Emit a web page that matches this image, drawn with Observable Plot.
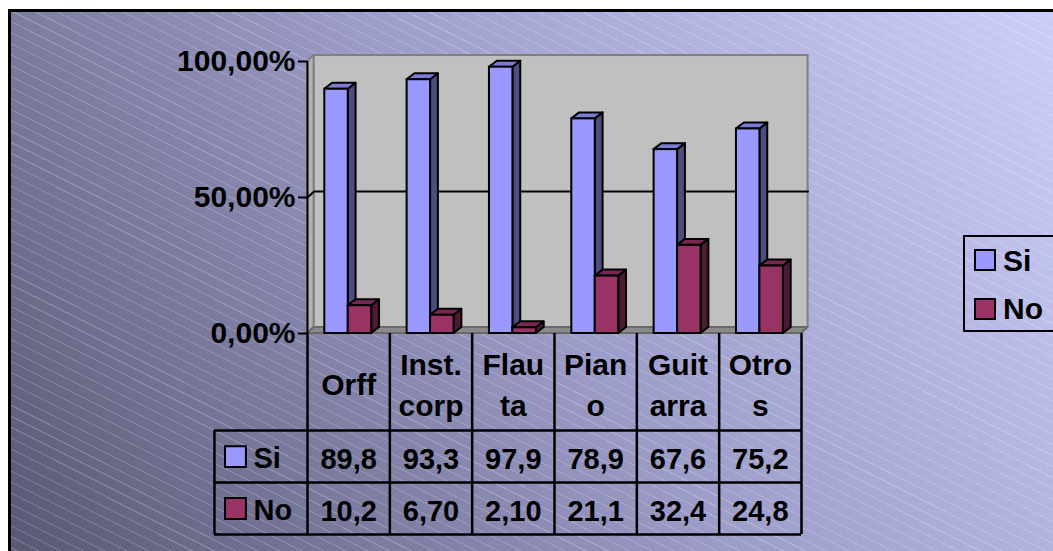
<!DOCTYPE html>
<html>
<head>
<meta charset="utf-8">
<script src="https://cdn.jsdelivr.net/npm/d3@7"></script>
<script src="https://cdn.jsdelivr.net/npm/@observablehq/plot@0.6"></script>
<style>
  html, body { margin: 0; padding: 0; background: #fff; overflow: hidden; }
  #page { position: relative; width: 1053px; height: 551px; overflow: hidden;
          font-family: "Liberation Sans", Arial, sans-serif; }
  #frame { position: absolute; left: 8px; top: 9px; width: 1090px; height: 590px;
           border: 3px solid #000;
           background:
             repeating-linear-gradient(26.6deg,
               rgba(255,255,255,0) 0px, rgba(255,255,255,0) 8.8px,
               rgba(255,255,255,0.2) 8.8px, rgba(255,255,255,0.2) 9.8px),
             linear-gradient(55deg, #55556f 0%, #9c9cc8 50%, #d0d0fc 100%); }
  #page svg { position: absolute; left: 0; top: 0; }
  .legend-box { position: absolute; left: 963px; top: 235px; width: 150px; height: 97px;
                box-sizing: border-box; border: 2.5px solid #000; }
  .legend-swatch { position: absolute; width: 22px; height: 22px; box-sizing: border-box;
                   border: 2px solid #000; }
  .legend-label { position: absolute; font-size: 30px; line-height: 30px; font-weight: bold;
                  color: #000; white-space: nowrap; }
</style>
</head>
<body>
<div id="page"><div id="frame"></div></div>
<script>
// Instrument preference survey: share of "Si" / "No" answers per instrument (%)
const categories = ["Orff", "Inst. corp", "Flauta", "Piano", "Guitarra", "Otros"];
const headerLabels = ["Orff", "Inst.\ncorp", "Flau\nta", "Pian\no", "Guit\narra", "Otro\ns"];
const siValues = [89.8, 93.3, 97.9, 78.9, 67.6, 75.2];
const noValues = [10.2, 6.70, 2.10, 21.1, 32.4, 24.8];
const seriesNames = ["Si", "No"];
const yTicks = [0, 50, 100];

// Colours of each series: front, side and top faces of the 3D columns
const palette = {
  Si: {front: "#9999ff", side: "#4d4d80", top: "#7b7bd6"},
  No: {front: "#993366", side: "#4d1a33", top: "#762853"}
};

// Geometry of the pseudo-3D columns, in scale units
const GROUP_START = 0.21;  // offset of the first column inside its category
const BAR_W = 0.285;       // width of one column
const BAR_DX = 0.095;      // horizontal depth of a column
const WALL_DX = 0.08;      // horizontal depth of walls and floor
const DEPTH_Y = 2.2;       // vertical depth (in percent units)
const Y_MAX = d3.max(yTicks);
const N = categories.length;

const valuesBySeries = {Si: siValues, No: noValues};
const comma = d3.formatLocale({decimal: ",", thousands: ".", grouping: [3], currency: ["", ""]});
const fmtCell = comma.format(".3r");
const fmtTick = d => comma.format(".2f")(d) + "%";

function columnMarks(name, k) {
  const bars = categories.map((c, i) => {
    const x1 = i + GROUP_START + k * BAR_W;
    return {id: name + i, x1, x2: x1 + BAR_W, y1: 0, y2: valuesBySeries[name][i]};
  });
  const side = bars.flatMap(b => [
    {id: b.id, x: b.x2, y1: b.y1, y2: b.y2},
    {id: b.id, x: b.x2 + BAR_DX, y1: b.y1 + DEPTH_Y, y2: b.y2 + DEPTH_Y}
  ]);
  const top = bars.flatMap(b => [
    {id: b.id, y: b.y2, x1: b.x1, x2: b.x2},
    {id: b.id, y: b.y2 + DEPTH_Y, x1: b.x1 + BAR_DX, x2: b.x2 + BAR_DX}
  ]);
  const c = palette[name];
  return [
    Plot.areaY(side, {x: "x", y1: "y1", y2: "y2", z: "id", fill: c.side, stroke: "#000", strokeWidth: 2}),
    Plot.areaX(top, {y: "y", x1: "x1", x2: "x2", z: "id", fill: c.top, stroke: "#000", strokeWidth: 2}),
    Plot.rect(bars, {x1: "x1", x2: "x2", y1: "y1", y2: "y2", fill: c.front, stroke: "#000", strokeWidth: 2})
  ];
}

const page = document.getElementById("page");
const fontStyle = {
  background: "transparent", overflow: "visible", color: "#000",
  fontFamily: "'Liberation Sans', Arial, sans-serif", fontSize: "30px", fontWeight: "bold"
};

// Column chart with back wall, side wall and floor
const chart = Plot.plot({
  width: 1053, height: 551,
  marginLeft: 307, marginRight: 252, marginTop: 61, marginBottom: 218,
  style: fontStyle,
  x: {domain: [0, N], axis: null},
  y: {domain: [0, Y_MAX], ticks: yTicks, tickFormat: fmtTick, tickSize: 0, tickPadding: 12, label: null},
  marks: [
    Plot.rect([{x1: WALL_DX, x2: N + WALL_DX, y1: DEPTH_Y, y2: Y_MAX + DEPTH_Y}],
      {x1: "x1", x2: "x2", y1: "y1", y2: "y2", fill: "#c0c0c0", stroke: "#808080", strokeWidth: 2}),
    Plot.areaY([{x: 0, y1: 0, y2: Y_MAX}, {x: WALL_DX, y1: DEPTH_Y, y2: Y_MAX + DEPTH_Y}],
      {x: "x", y1: "y1", y2: "y2", fill: "#b2b2b2", stroke: "#808080", strokeWidth: 2}),
    Plot.areaX([{y: 0, x1: 0, x2: N}, {y: DEPTH_Y, x1: WALL_DX, x2: N + WALL_DX}],
      {y: "y", x1: "x1", x2: "x2", fill: "#8a8a8a", stroke: "#6a6a6a", strokeWidth: 2}),
    Plot.line(yTicks.filter(t => t > 0 && t < Y_MAX).flatMap(t => [
        {t, x: 0, y: t}, {t, x: WALL_DX, y: t + DEPTH_Y}, {t, x: N + WALL_DX, y: t + DEPTH_Y}]),
      {x: "x", y: "y", z: "t", stroke: "#000", strokeWidth: 2}),
    Plot.ruleX([0], {y1: () => 0, y2: () => Y_MAX, stroke: "#000", strokeWidth: 2}),
    Plot.ruleY(yTicks, {y: d => d, x1: () => -0.11, x2: () => 0, stroke: "#000", strokeWidth: 2}),
    ...columnMarks("Si", 0),
    ...columnMarks("No", 1)
  ]
});
page.appendChild(chart);

// Data table under the columns
const KEY_W = 1.13;            // width of the key column, in category units
const rowEdges = [0, 1.87, 2.87, 3.87];
const cells = seriesNames.flatMap((name, r) => valuesBySeries[name].map((v, i) => ({
  x: i + 0.5, y: (rowEdges[r + 1] + rowEdges[r + 2]) / 2, text: fmtCell(v)
})));
const keyMarks = seriesNames.flatMap((name, r) => {
  const row = [{name, y: (rowEdges[r + 1] + rowEdges[r + 2]) / 2}];
  return [
    Plot.dot(row, {x: () => -KEY_W, y: "y", dx: 21, symbol: "square", r: 11.8,
      fill: palette[name].front, stroke: "#000", strokeWidth: 2}),
    Plot.text(row, {x: () => -KEY_W, y: "y", dx: 39, dy: 2, text: "name", textAnchor: "start", fontSize: 29})
  ];
});

const table = Plot.plot({
  width: 1053, height: 551,
  marginLeft: 307, marginRight: 252, marginTop: 333, marginBottom: 17,
  style: fontStyle,
  x: {domain: [0, N], axis: null},
  y: {domain: [0, d3.max(rowEdges)], reverse: true, axis: null},
  marks: [
    Plot.ruleY(rowEdges.slice(1), {y: d => d, x1: () => -KEY_W, x2: () => N, stroke: "#000", strokeWidth: 2.5}),
    Plot.ruleX(d3.range(N + 1), {x: d => d, y1: () => 0, y2: () => d3.max(rowEdges), stroke: "#000", strokeWidth: 2.5}),
    Plot.ruleX([-KEY_W], {x: d => d, y1: () => rowEdges[1], y2: () => d3.max(rowEdges), stroke: "#000", strokeWidth: 2.5}),
    Plot.text(headerLabels, {x: (d, i) => i + 0.5, y: () => rowEdges[1] / 2, text: d => d,
      lineHeight: 1.37, fontSize: 30}),
    Plot.text(cells, {x: "x", y: "y", text: "text", dy: 3, fontSize: 29}),
    ...keyMarks
  ]
});
page.appendChild(table);

// Series legend on the right
const legend = document.createElement("div");
legend.className = "legend-box";
page.appendChild(legend);
seriesNames.forEach((name, k) => {
  const sw = document.createElement("div");
  sw.className = "legend-swatch";
  sw.style.left = "974px";
  sw.style.top = (249 + 49 * k) + "px";
  sw.style.background = palette[name].front;
  page.appendChild(sw);
  const lb = document.createElement("div");
  lb.className = "legend-label";
  lb.style.left = "1003px";
  lb.style.top = (246 + 48 * k) + "px";
  lb.textContent = name;
  page.appendChild(lb);
});
</script>
</body>
</html>
